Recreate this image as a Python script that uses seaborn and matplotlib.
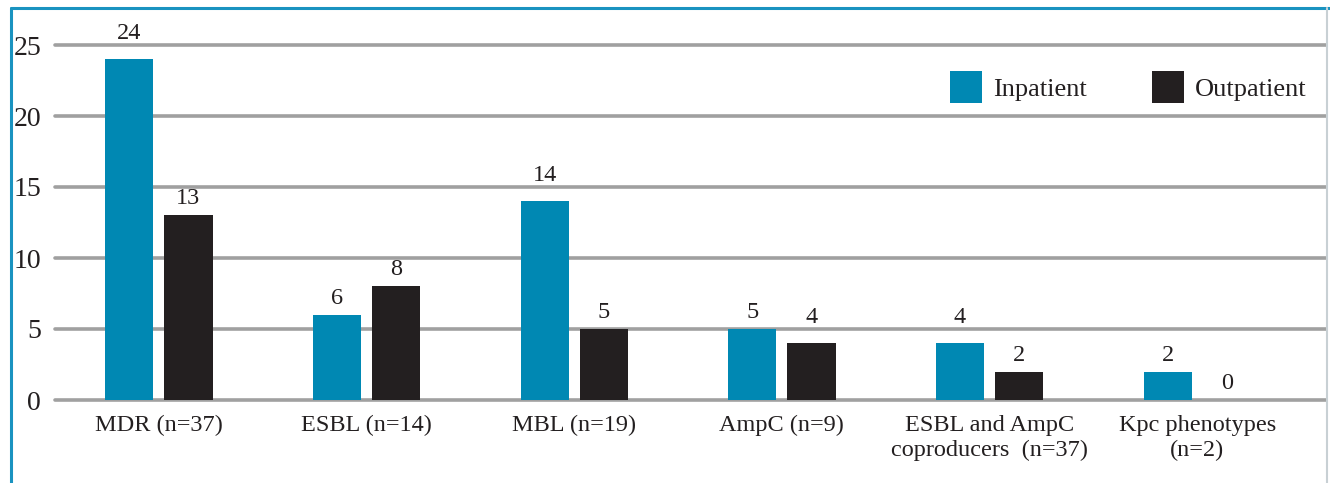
import matplotlib
matplotlib.use("Agg")
import matplotlib.pyplot as plt
from matplotlib.lines import Line2D
import seaborn as sns
import pandas as pd

categories = ["MDR (n=37)", "ESBL (n=14)", "MBL (n=19)", "AmpC (n=9)",
              "ESBL and AmpC\ncoproducers  (n=37)", "Kpc phenotypes\n(n=2)"]
inpatient = [24, 6, 14, 5, 4, 2]
outpatient = [13, 8, 5, 4, 2, 0]
series = ["Inpatient", "Outpatient"]
colors = ["#0088B3", "#231F20"]
yticks = [0, 5, 10, 15, 20, 25]

df = pd.DataFrame({
    "category": categories * 2,
    "value": inpatient + outpatient,
    "group": [series[0]] * len(categories) + [series[1]] * len(categories),
})

sns.set_style("white")
plt.rcParams["font.family"] = ["Liberation Serif", "DejaVu Serif"]
TXT = "#231F20"

fig = plt.figure(figsize=(13.3, 4.83), dpi=100)
W, H = 1330, 483
ax = fig.add_axes([55 / W, (H - 400) / H, (1326 - 55) / W, 355 / H])

sns.barplot(data=df, x="category", y="value", hue="group", palette=colors,
            width=0.57, gap=0.186, ax=ax, saturation=1, legend=True,
            linewidth=0, edgecolor="none")

ax.set_ylim(0, 25)
ax.set_xlim(-0.5, 5.62)
ax.set_yticks(yticks)
ax.set_yticklabels([str(t) for t in yticks], fontsize=20, color=TXT)
ax.tick_params(axis="x", labelsize=17.5, colors=TXT, length=0, pad=11)
ax.tick_params(axis="y", length=0, pad=10)
ax.set_xlabel("")
ax.set_ylabel("")
ax.yaxis.grid(True, color="#A0A0A0", linewidth=2.6)
for gl in ax.get_ygridlines():
    gl.set_clip_on(False)
ax.set_axisbelow(True)
for s in ax.spines.values():
    s.set_visible(False)

# value labels: sit above the bar, lifted above a gridline when they would cross it
pad_u, h_u = 0.78, 1.13
for cont, vals in zip(ax.containers, [inpatient, outpatient]):
    for rect, v in zip(cont.patches, vals):
        base = v + pad_u
        for g in yticks:
            if base - 0.1 < g < base + h_u:
                base = g + 0.4
        ax.text(rect.get_x() + rect.get_width() / 2, base, str(v), ha="center",
                va="baseline", fontsize=17.5, color=TXT, clip_on=False)

handles, labels = ax.get_legend_handles_labels()
ax.legend(handles, labels, loc="upper right", bbox_to_anchor=(0.999, 0.978),
          ncol=2, frameon=False, fontsize=19, handlelength=1.2, handleheight=1.5,
          columnspacing=2.5, handletextpad=0.4, labelcolor=TXT, borderaxespad=0.3)

# figure frame
fig.add_artist(Line2D([11 / W, 1], [1 - 8 / H, 1 - 8 / H], color="#1A93C0", linewidth=2.2))
fig.add_artist(Line2D([11 / W, 11 / W], [0, 1 - 8 / H], color="#1A93C0", linewidth=2.2))
fig.add_artist(Line2D([1327 / W, 1327 / W], [0, 1 - 8 / H], color="#C8D0D4", linewidth=1.5))

fig.savefig("out.png", dpi=100)
